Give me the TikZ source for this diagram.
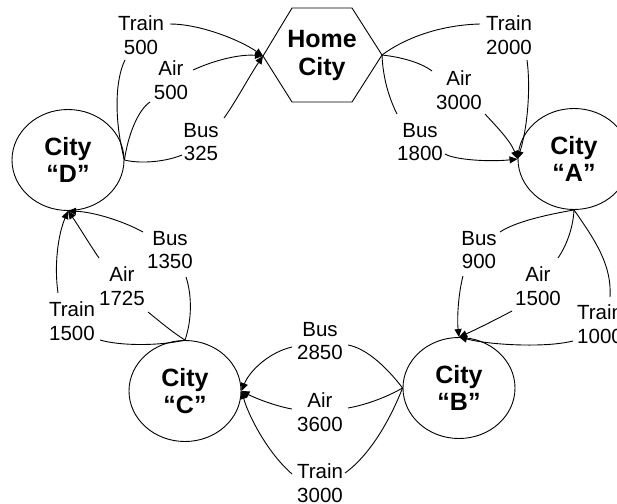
\documentclass[tikz,border=0pt]{standalone}
\usepackage{fontspec}
\setmainfont{Liberation Sans}
\usetikzlibrary{shapes.geometric,arrows.meta,calc}
\begin{document}
\begin{tikzpicture}[x=1pt,y=-1pt,
  city/.style={ellipse,draw,line width=0.9pt,minimum width=112pt,minimum height=101pt,inner sep=0pt,align=center,font=\fontsize{25}{27}\selectfont\bfseries},
  hometext/.style={inner sep=0pt,align=center,font=\fontsize{25}{28}\selectfont\bfseries},
  lbl/.style={inner sep=0pt,align=center,font=\fontsize{20.5}{23.5}\selectfont},
  link/.style={line width=0.9pt},
  arr/.style={line width=0.9pt,-{Triangle[length=8pt,width=7pt]}}]
\useasboundingbox (0,0) rectangle (617,503);

% Home City hexagon
\coordinate (hL) at (263,56);
\coordinate (hTL) at (292,8);
\coordinate (hTR) at (352,8);
\coordinate (hR) at (382,55);
\coordinate (hBR) at (352,102);
\coordinate (hBL) at (292,102);
\draw[line width=0.9pt] (hL) -- (hTL) -- (hTR) -- (hR) -- (hBR) -- (hBL) -- cycle;
\node[hometext] (home) at (322,55) {Home\\City};

% cities
\node[city] (D) at (68,160) {City\\“D”};
\node[city] (A) at (574,159) {City\\“A”};
\node[city] (B) at (459,388) {City\\“B”};
\node[city] (C) at (185,391) {City\\“C”};

% labels
\node[lbl] (l1) at (141,35) {Train\\500};
\node[lbl] (l2) at (171,80) {Air\\500};
\node[lbl] (l3) at (201,142) {Bus\\325};
\node[lbl] (l4) at (509,35) {Train\\2000};
\node[lbl] (l5) at (459,90) {Air\\3000};
\node[lbl] (l6) at (420,142) {Bus\\1800};
\node[lbl] (l7) at (479,250) {Bus\\900};
\node[lbl] (l8) at (538,286) {Air\\1500};
\node[lbl] (l9) at (600,324) {Train\\1000};
\node[lbl] (l10) at (320,341) {Bus\\2850};
\node[lbl] (l11) at (320,412) {Air\\3600};
\node[lbl] (l12) at (320,483) {Train\\3000};
\node[lbl] (l13) at (170,250) {Bus\\1350};
\node[lbl] (l14) at (122,286) {Air\\1725};
\node[lbl] (l15) at (72,321) {Train\\1500};

% D -> Home
\draw[link] (D.east) .. controls (114,120) and (115,80) .. ($(l1)+(-16,25)$);
\draw[arr] ($(l1)+(29,-11)$) .. controls (200,24) and (240,40) .. (hL);
\draw[link] (D.east) .. controls (128,135) and (138,110) .. ($(l2)+(-21,22)$);
\draw[arr] ($(l2)+(22,-10)$) .. controls (215,60) and (240,54) .. (hL);
\draw[link] (D.east) .. controls (140,164) and (165,162) .. ($(l3)+(-19,13)$);
\draw[arr] ($(l3)+(23,-24)$) .. controls (235,103) and (250,75) .. (hL);

% Home -> A
\draw[link] (hR) .. controls (405,38) and (440,25) .. ($(l4)+(-29,-11)$);
\draw[arr] ($(l4)+(18,25)$) .. controls (531,90) and (527,130) .. (A.west);
\draw[link] (hR) .. controls (400,57) and (420,62) .. ($(l5)+(-27,-19)$);
\draw[arr] ($(l5)+(26,24)$) .. controls (495,125) and (510,140) .. (A.west);
\draw[link] (hR) .. controls (383,80) and (390,100) .. ($(l6)+(-23,-28)$);
\draw[arr] ($(l6)+(25,12)$) .. controls (455,160) and (490,162) .. (A.west);

% A -> B
\draw[link] (A.south) .. controls (545,215) and (515,222) .. ($(l7)+(21,-18)$);
\draw[arr] ($(l7)+(-16,26)$) .. controls (458,295) and (457,320) .. (B.north);
\draw[link] (A.south) .. controls (573,230) and (565,248) .. ($(l8)+(20,-28)$);
\draw[arr] ($(l8)+(-26,25)$) .. controls (495,320) and (475,330) .. (B.north);
\draw[link] (A.south) .. controls (595,240) and (612,265) .. ($(l9)+(10,-27)$);
\draw[arr] ($(l9)+(-27,17)$) .. controls (545,348) and (490,345) .. (B.north);

% B -> C
\draw[link] (B.west) .. controls (385,365) and (365,348) .. ($(l10)+(28,4)$);
\draw[arr] ($(l10)+(-28,6)$) .. controls (270,352) and (250,370) .. (C.east);
\draw[link] (B.west) .. controls (385,398) and (365,405) .. ($(l11)+(28,-4)$);
\draw[arr] ($(l11)+(-28,-3)$) .. controls (275,406) and (255,398) .. (C.east);
\draw[link] (B.west) .. controls (390,420) and (370,455) .. ($(l12)+(25,-10)$);
\draw[arr] ($(l12)+(-28,-9)$) .. controls (270,455) and (250,420) .. (C.east);

% C -> D
\draw[link] (C.north) .. controls (192,320) and (192,295) .. ($(l13)+(16,27)$);
\draw[arr] ($(l13)+(-27,-18)$) .. controls (125,222) and (95,212) .. (D.south);
\draw[link] (C.north) .. controls (172,332) and (158,320) .. ($(l14)+(26,26)$);
\draw[arr] ($(l14)+(-23,-28)$) .. controls (90,245) and (78,225) .. (D.south);
\draw[link] (C.north) .. controls (160,346) and (120,346) .. ($(l15)+(28,19)$);
\draw[arr] ($(l15)+(-14,-28)$) .. controls (54,265) and (58,235) .. (D.south);
\end{tikzpicture}
\end{document}
